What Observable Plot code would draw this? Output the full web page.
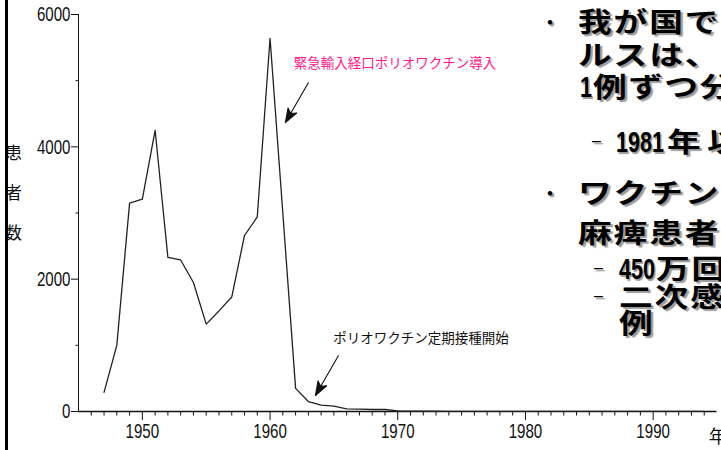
<!DOCTYPE html>
<html>
<head>
<meta charset="utf-8">
<script src="https://cdn.jsdelivr.net/npm/d3@7"></script>
<script src="https://cdn.jsdelivr.net/npm/@observablehq/plot@0.6"></script>
<style>
  html, body { margin: 0; padding: 0; background: #fff; }
  #wrap { position: relative; width: 721px; height: 450px; overflow: hidden; background: #fff; }
  #chart { position: absolute; left: 0; top: 0; }
  #bar { position: absolute; left: 5px; top: 0; width: 2.5px; height: 450px; background: #000; }
  .ln { position: absolute; white-space: nowrap; color: #000; transform-origin: left center;
        text-shadow: 2px 2px 1px #9a9a9a; }
</style>
</head>
<body>
<div id="wrap">
  <div id="chart"></div>
  <div id="bar"></div>
  <div id="slide"></div>
</div>
<script>
// ---- data ----
const years = [1947,1948,1949,1950,1951,1952,1953,1954,1955,1956,1957,1958,1959,1960,1961,1962,1963,1964,1965,1966,1967,1968,1969,1970,1971,1972,1973,1974,1975,1976,1977,1978,1979,1980,1981,1982,1983,1984,1985,1986,1987,1988,1989,1990,1991,1992,1993,1994];
const cases = [290,1000,3150,3210,4250,2330,2290,1950,1320,1520,1730,2660,2940,5640,3000,350,150,95,80,40,35,30,30,8,5,4,4,3,3,3,3,2,2,2,2,2,2,2,2,2,2,2,2,2,2,2,2,2];

const yMajorTicks = [0, 2000, 4000, 6000];
const yMinorTicks = [1000, 3000, 5000];
const xMajorTicks = [1950, 1960, 1970, 1980, 1990];
const xMinorTicks = [1946,1947,1948,1949,1951,1952,1953,1954,1955,1956,1957,1958,1959,1961,1962,1963,1964,1965,1966,1967,1968,1969,1971,1972,1973,1974,1975,1976,1977,1978,1979,1981,1982,1983,1984,1985,1986,1987,1988,1989,1991,1992,1993,1994];

const yAxisTitle = "患\n者\n数";
const xAxisTitle = "年";

// annotations
const noteTexts = ["緊急輸入経口ポリオワクチン導入", "ポリオワクチン定期接種開始"];
const noteX = [1961.85, 1964.95];
const noteY = [5257, 1103];
const noteColors = ["#ff1a8c", "#111111"];
const arrowTipX = [1961.2, 1963.55];
const arrowTipY = [4366, 242];

// ---- build tables ----
const series = years.map((y, i) => ({year: y, cases: cases[i]}));
const notes = noteTexts.map((t, i) => ({text: t, x: noteX[i], y: noteY[i], color: noteColors[i]}));
const arrows = arrowTipX.map((x, i) => ({x, y: arrowTipY[i]}));

const arrowShape = {
  draw(context, l) {
    const h = 14, w = 5;
    context.moveTo(0, 0);
    context.lineTo(0, -l + h - 3);
    context.moveTo(0, -l);
    context.lineTo(-w, -l + h);
    context.lineTo(0, -l + h - 3.5);
    context.lineTo(w, -l + h);
    context.closePath();
  }
};

const tickFont = "'Liberation Sans', sans-serif";

const chart = Plot.plot({
  width: 721,
  height: 450,
  marginLeft: 78,
  marginRight: 4.5,
  marginTop: 14,
  marginBottom: 39,
  x: {domain: [1945, 1995]},
  y: {domain: [0, 6000]},
  style: {background: "#fff", color: "#111", fontFamily: tickFont, overflow: "visible"},
  marks: [
    Plot.axisY({ticks: yMajorTicks, tickSize: 7, tickPadding: 1, tickFormat: "d", fontSize: 21, label: null, stroke: "#111"}),
    Plot.axisY({ticks: yMinorTicks, tickSize: 2.5, tickFormat: () => "", label: null, stroke: "#111"}),
    Plot.axisX({ticks: xMajorTicks, tickSize: 9, tickPadding: 3, tickFormat: "d", fontSize: 21, label: null, stroke: "#111"}),
    Plot.axisX({ticks: xMinorTicks, tickSize: 4.5, tickFormat: () => "", label: null, stroke: "#111"}),
    Plot.ruleX([1945], {stroke: "#111", strokeWidth: 1}),
    Plot.ruleY([0], {stroke: "#111", strokeWidth: 1.4}),
    Plot.line(series, {x: "year", y: "cases", stroke: "#222", strokeWidth: 1.3}),
    Plot.text(notes, {x: "x", y: "y", text: "text", fill: "color", textAnchor: "start", fontSize: 13.5,
      fontFamily: "'Noto Sans CJK JP', sans-serif", letterSpacing: -0.3}),
    Plot.vector(arrows, {x: "x", y: "y", length: 46, rotate: 210, anchor: "end", shape: arrowShape,
      stroke: "#111", fill: "#111", strokeWidth: 1.1}),
    Plot.text([yAxisTitle], {frameAnchor: "left", y: () => 3400, dx: -65, textAnchor: "middle",
      fontSize: 17, lineHeight: 2.35, fontFamily: "'Noto Sans CJK JP', sans-serif", fill: "#111"}),
    Plot.text([xAxisTitle], {x: () => 1994.35, y: () => 0, dy: 26, textAnchor: "start",
      fontSize: 18, fontFamily: "'Noto Sans CJK JP', sans-serif", fill: "#111"})
  ]
});
// condensed tick numerals, as in the reference
chart.querySelectorAll('g[aria-label$="tick label"] text').forEach(t => {
  const n = t.textContent.length;
  if (!n) return;
  t.setAttribute("textLength", n * 8.4);
  t.setAttribute("lengthAdjust", "spacingAndGlyphs");
});
document.getElementById("chart").appendChild(chart);

// ---- slide text on the right (clipped at the window edge) ----
// kind: b = bullet, c = CJK text, n = numerals, d = dash
const slideKind   = ["b", "c", "c", "n", "c", "d", "n", "c", "c", "b", "c", "c", "d", "n", "c", "d", "c", "c"];
const slideLeft   = [550, 578, 578, 580, 593, 592, 616, 667, 707, 550, 578, 578, 594, 619, 656, 594, 619, 619];
const slideCenter = [21, 21, 54, 86, 86, 141, 141, 141, 141, 192, 192, 232, 268, 268, 268, 296, 296, 322];
const slideText   = ["・", "我が国では、野生株", "ルスは、1980年", "1", "例ずつ分離", "–", "1981", "年", "以降",
                     "・", "ワクチン関連", "麻痺患者数", "–", "450", "万回", "–", "二次感染", "例"];

const slide = document.getElementById("slide");
slideText.forEach((t, i) => {
  const kind = slideKind[i];
  const d = document.createElement("div");
  d.className = "ln";
  let fs, font, scale, ls = 0, w = 700;
  if (kind === "c") { fs = 27; font = "'Noto Sans CJK JP', sans-serif"; scale = 1.25; ls = 1.5; }
  else if (kind === "n") { fs = 30; font = "'Liberation Sans', sans-serif"; scale = 0.72; }
  else if (kind === "d") { fs = 16; font = "'Liberation Sans', sans-serif"; scale = 1; w = 400; }
  else { fs = 18; font = "'Noto Sans CJK JP', sans-serif"; scale = 1; }
  d.style.fontFamily = font;
  d.style.fontSize = fs + "px";
  d.style.lineHeight = (fs * 1.5) + "px";
  d.style.top = (slideCenter[i] - fs * 0.75) + "px";
  d.style.left = (kind === "b" ? slideLeft[i] - fs / 2 : slideLeft[i]) + "px";
  d.style.fontWeight = w;
  d.style.letterSpacing = ls + "px";
  d.style.transform = "scaleX(" + scale + ")";
  d.textContent = t;
  slide.appendChild(d);
});
</script>
</body>
</html>
